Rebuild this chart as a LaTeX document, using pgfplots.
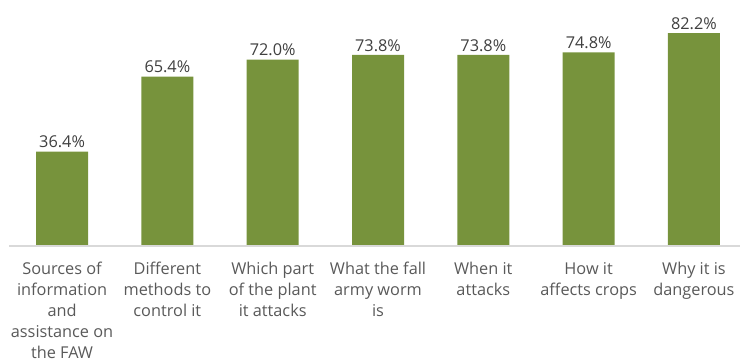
\documentclass[border=0pt]{standalone}
\usepackage{fontspec}
\setmainfont{Open Sans}
\usepackage{pgfplots}
\pgfplotsset{compat=1.18}
\definecolor{bargreen}{HTML}{77933C}
\definecolor{txt}{HTML}{595959}
\definecolor{vtxt}{HTML}{404040}
\definecolor{baseln}{HTML}{D9D9D9}
\begin{document}
\begin{tikzpicture}
\begin{axis}[
  name=ax,
  scale only axis,
  width=737.2pt, height=246pt,
  xmin=-0.5, xmax=6.5, ymin=0, ymax=95,
  ybar, bar width=52pt,
  axis line style={draw=none},
  tick style={draw=none},
  ytick=\empty,
  xtick={0,...,6},
  xticklabels={{Sources of\\information\\and\\assistance on\\the FAW},{Different\\methods to\\control it},{Which part\\of the plant\\it attacks},{What the fall\\army worm\\is},{When it\\attacks},{How it\\affects crops},{Why it is\\dangerous}},
  xticklabel style={font=\fontsize{16.3}{21}\selectfont, text=txt, align=center, anchor=north, yshift=-8.5pt},
  nodes near coords,
  point meta=explicit symbolic,
  every node near coord/.append style={font=\fontsize{16.3}{18}\selectfont, text=vtxt, anchor=south, yshift=0pt},
  clip=false,
]
\addplot[fill=bargreen, draw=none] coordinates {
  (0,36.4) [36.4\%]
  (1,65.4) [65.4\%]
  (2,72.0) [72.0\%]
  (3,73.8) [73.8\%]
  (4,73.8) [73.8\%]
  (5,74.8) [74.8\%]
  (6,82.2) [82.2\%]
};
\draw[baseln, line width=1.5pt] (axis cs:-0.5,0) -- (axis cs:6.5,0);
\end{axis}
\pgfresetboundingbox
\path[use as bounding box] ([shift={(-9.4pt,-116pt)}]ax.south west) rectangle ([shift={(-6.6pt,0pt)}]ax.north east);
\end{tikzpicture}
\end{document}
